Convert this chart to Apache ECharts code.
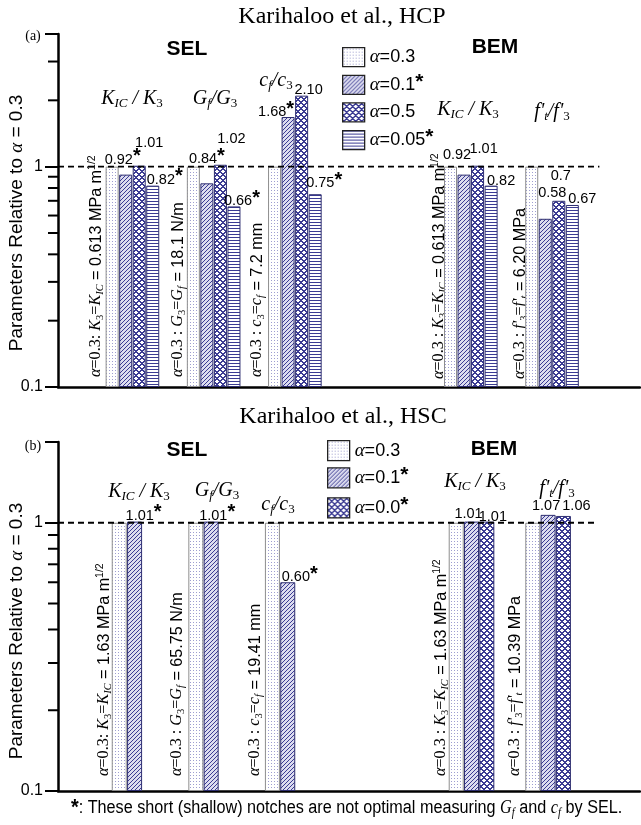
<!DOCTYPE html>
<html>
<head>
<meta charset="utf-8">
<script src="https://cdn.jsdelivr.net/npm/echarts@6/dist/echarts.min.js"></script>
<style>
  html, body { margin: 0; padding: 0; background: #fff; }
  #chart { width: 641px; height: 825px; }
</style>
</head>
<body>
<div id="chart"></div>
<script>
// groups along the x axis: three SEL ratios, then two BEM ratios
const groups = ['KIC/K3', 'Gf/G3', 'cf/c3', 'KIC/K3 BEM', "f't/f'3 BEM"]
const selGroup = [true, true, true, false, false]
const starred = ['α=0.1', 'α=0.05', 'α=0.0']

// (a) Karihaloo et al., HCP
const hcpNames = ['α=0.3', 'α=0.1', 'α=0.5', 'α=0.05']
const hcpA03 = ['1', '1', '1', '1', '1']
const hcpA01 = ['0.92', '0.84', '1.68', '0.92', '0.58']
const hcpA05 = ['1.01', '1.02', '2.10', '1.01', '0.7']
const hcpA005 = ['0.82', '0.66', '0.75', '0.82', '0.67']

// (b) Karihaloo et al., HSC
const hscNames = ['α=0.3', 'α=0.1', 'α=0.0']
const hscA03 = ['1', '1', '1', '1', '1']
const hscA01 = ['1.01', '1.01', '0.60', '1.01', '1.07']
const hscA00 = [null, null, null, '1.01', '1.06']

const hcpMinor = [0.2, 0.3, 0.4, 0.5, 0.6, 0.7, 0.8, 0.9, 2, 3]
const hscMinor = [0.2, 0.3, 0.4, 0.5, 0.6, 0.7, 0.8, 0.9]

// label nudges [dx, dy] (hand placed in the original figure)
const hcpShift = {
  'α=0.1': [[-3, -7], [0, -16], [-12, 3], [-7, -12], [7, -18]],
  'α=0.5': [[10, -15], [11, -18], [7, 2], [6, -9], [2, -17]],
  'α=0.05': [[12, 2], [8, 3], [9, -3], [10, 3], [10, 2]]
}
const hscShift = {
  'α=0.1': [[9, 2], [6, 2], [12, 3], [-3, 0], [-2, -1]],
  'α=0.0': [null, null, null, [6, 3], [13, -2]]
}

const SERIF = "'Liberation Serif', 'Times New Roman', serif"
const NARROW = "'Liberation Sans Narrow', 'Arial Narrow', 'Liberation Sans', Arial, sans-serif"
const SANS = "'Liberation Sans', Arial, sans-serif"
const NAVY = '#3b3b93'

function tile(w, h, bg, fg, on) {
  const c = document.createElement('canvas')
  c.width = w
  c.height = h
  const ctx = c.getContext('2d')
  ctx.fillStyle = bg
  ctx.fillRect(0, 0, w, h)
  ctx.fillStyle = fg
  for (let y = 0; y < h; y++) {
    for (let x = 0; x < w; x++) {
      if (on(x, y)) ctx.fillRect(x, y, 1, 1)
    }
  }
  return { image: c, repeat: 'repeat' }
}

const crossFill = tile(6, 6, '#ffffff', NAVY, (x, y) => (x + y) % 6 < 2 || (x - y + 6) % 6 < 2)
const fills = {
  'α=0.3': tile(3, 3, '#ffffff', '#9e9ed0', (x, y) => x === 1 && y === 1),
  'α=0.1': tile(4, 4, '#dcdcef', NAVY, (x, y) => (x + y) % 4 === 0),
  'α=0.5': crossFill,
  'α=0.05': tile(1, 3, '#ffffff', NAVY, (x, y) => y === 0),
  'α=0.0': crossFill
}

const panels = [
  {
    names: hcpNames, values: [hcpA03, hcpA01, hcpA05, hcpA005], shift: hcpShift, minor: hcpMinor,
    slots: 44, groupStart: [4, 10, 16, 29, 35], barWidth: 13, lineEnd: 40.2, max: 4, top: 34, height: 353
  },
  {
    names: hscNames, values: [hscA03, hscA01, hscA00], shift: hscShift, minor: hscMinor,
    slots: 39, groupStart: [4, 9, 14, 26, 31], barWidth: 15, lineEnd: 35.4, max: 2, top: 442, height: 349
  }
]

function rich(size) {
  const sub = Math.round(size * 0.66)
  return {
    i: { fontFamily: SERIF, fontStyle: 'italic', fontSize: size, fill: '#000' },
    r: { fontFamily: SERIF, fontSize: size, fill: '#000' },
    n: { fontFamily: NARROW, fontSize: size, fill: '#000' },
    si: { fontFamily: SERIF, fontStyle: 'italic', fontSize: sub, fill: '#000', padding: [Math.round(size * 0.5), 0, 0, 0] },
    s: { fontFamily: SERIF, fontSize: sub, fill: '#000', padding: [Math.round(size * 0.5), 0, 0, 0] },
    sup: { fontFamily: NARROW, fontSize: sub, fill: '#000', padding: [0, 0, Math.round(size * 0.5), 0] },
    st: { fontFamily: SANS, fontWeight: 'bold', fontSize: size + 4, fill: '#000' }
  }
}

const labelRich = {
  n: { fontFamily: NARROW, fontSize: 14.5, color: '#000', lineHeight: 16 },
  s: { fontFamily: SANS, fontWeight: 'bold', fontSize: 20, color: '#000', lineHeight: 16, padding: [0, 0, 6, 0] }
}

const legendRich = {
  g: { fontFamily: SERIF, fontStyle: 'italic', fontSize: 19, color: '#000', lineHeight: 19 },
  t: { fontFamily: NARROW, fontSize: 18, color: '#000', lineHeight: 19 },
  s: { fontFamily: SANS, fontWeight: 'bold', fontSize: 21, color: '#000', lineHeight: 19, padding: [0, 0, 6, 0] }
}

const series = []
panels.forEach((p, pi) => {
  p.names.forEach((name, k) => {
    const data = new Array(p.slots).fill('-')
    p.values[k].forEach((s, g) => {
      if (s == null) return
      const item = { value: +s, text: s, star: starred.includes(name) && selGroup[g] }
      const sh = p.shift[name] && p.shift[name][g]
      if (sh) item.label = { offset: sh }
      data[p.groupStart[g] + k] = item
    })
    series.push({
      name: name,
      type: 'bar',
      xAxisIndex: pi,
      yAxisIndex: pi,
      data: data,
      barWidth: p.barWidth,
      barGap: '-100%',
      itemStyle: {
        color: fills[name],
        borderColor: k === 0 ? '#8e8e8e' : '#2e2e70',
        borderWidth: 1
      },
      label: {
        show: k > 0,
        position: 'top',
        distance: 0,
        formatter: lp => '{n|' + lp.data.text + '}' + (lp.data.star ? '{s|*}' : ''),
        rich: labelRich
      },
      emphasis: { disabled: true }
    })
  })
  // dashed reference line at 1
  series.push({
    type: 'custom',
    xAxisIndex: pi,
    yAxisIndex: pi,
    silent: true,
    clip: false,
    encode: { x: [0, 1], y: 2 },
    data: [[0, p.lineEnd, 1]],
    renderItem: (params, api) => {
      const a = api.coord([api.value(0), api.value(2)])
      const b = api.coord([api.value(1), api.value(2)])
      return {
        type: 'line',
        shape: { x1: a[0], y1: a[1], x2: b[0], y2: b[1] },
        style: { stroke: '#000', lineWidth: 1.8, lineDash: [6, 4] },
        z2: 100
      }
    },
    z: 5
  })
  // minor ticks of the log axis (0.2 ... 0.9, 2, 3)
  series.push({
    type: 'custom',
    xAxisIndex: pi,
    yAxisIndex: pi,
    silent: true,
    clip: false,
    data: p.minor.map(v => [0, v]),
    renderItem: (params, api) => {
      const pt = api.coord([api.value(0), api.value(1)])
      return {
        type: 'line',
        shape: { x1: pt[0] - 10, y1: pt[1], x2: pt[0], y2: pt[1] },
        style: { stroke: '#000', lineWidth: 2 }
      }
    }
  })
})

function decadeLabel(v) {
  const l = Math.log10(v)
  if (Math.abs(l - Math.round(l)) > 1e-6 || v > 1.001) return ''
  return v < 0.5 ? '0.1' : '1'
}

function legendFmt(name) {
  return '{g|α}{t|' + name.slice(1) + '}' + (starred.includes(name) ? '{s|*}' : '')
}

function text(x, y, str, size, extra) {
  return Object.assign({
    type: 'text', x: x, y: y, silent: true,
    style: { text: str, rich: rich(size), fontSize: size, fontFamily: NARROW, fill: '#000', align: 'center', verticalAlign: 'middle' }
  }, extra || {})
}
function plain(x, y, str, size, family, weight) {
  return {
    type: 'text', x: x, y: y, silent: true,
    style: { text: str, fontSize: size, fontFamily: family, fontWeight: weight || 'normal', fill: '#000', align: 'center', verticalAlign: 'middle' }
  }
}
const up = { rotation: Math.PI / 2 }

const kRatio = '{i|K}{si|IC}{i| / K}{s|3}'
const gRatio = '{i|G}{si|f}{i|/G}{s|3}'
const cRatio = '{i|c}{si|f}{i|/c}{s|3}'
const fRatio = "{i|f'}{si|t}{i|/f'}{s|3}"

function note(x, y, str) {
  const t = text(x, y, str, 17, { rotation: Math.PI / 2, scaleX: 0.95 })
  t.style.align = 'left'
  return t
}

const graphic = [
  plain(342, 17, 'Karihaloo et al., HCP', 24, SERIF),
  plain(343, 417, 'Karihaloo et al., HSC', 24, SERIF),
  plain(33, 36, '(a)', 14, SERIF),
  plain(33, 446, '(b)', 14, SERIF),
  plain(187, 49, 'SEL', 21, SANS, 'bold'),
  plain(495, 47, 'BEM', 21, SANS, 'bold'),
  plain(187, 450, 'SEL', 21, SANS, 'bold'),
  plain(494, 449, 'BEM', 21, SANS, 'bold'),
  // ratio headers
  text(132, 99, kRatio, 20), text(215, 99, gRatio, 20), text(276, 81, cRatio, 20),
  text(468, 110, kRatio, 20), text(552, 112, fRatio, 20),
  text(139, 492, kRatio, 20), text(217, 491, gRatio, 20), text(278, 505, cRatio, 20),
  text(475, 482, kRatio, 20), text(557, 489, fRatio, 20),
  // reference values at alpha = 0.3
  note(96, 377, '{i|α}{r|=0.3: }{i|K}{s|3}{r|=}{i|K}{si|IC}{n| = 0.613 MPa m}{sup|1/2}'),
  note(178, 377, '{i|α}{r|=0.3 : }{i|G}{s|3}{r|=}{i|G}{si|f}{n| = 18.1 N/m}'),
  note(257, 377, '{i|α}{r|=0.3 : }{i|c}{s|3}{r|=}{i|c}{si|f}{n| = 7.2 mm}'),
  note(439, 379, '{i|α}{r|=0.3 : }{i|K}{s|3}{r|=}{i|K}{si|IC}{n| = 0.613 MPa m}{sup|1/2}'),
  note(520, 379, "{i|α}{r|=0.3 : }{i|f'}{s|3}{r|=}{i|f'}{si|t}{n| = 6.20 MPa}"),
  note(104, 776, '{i|α}{r|=0.3: }{i|K}{s|3}{r|=}{i|K}{si|IC}{n| = 1.63 MPa m}{sup|1/2}'),
  note(177, 776, '{i|α}{r|=0.3 : }{i|G}{s|3}{r|=}{i|G}{si|f}{n| = 65.75 N/m}'),
  note(255, 776, '{i|α}{r|=0.3 : }{i|c}{s|3}{r|=}{i|c}{si|f}{n| = 19.41 mm}'),
  note(441, 776, '{i|α}{r|=0.3 : }{i|K}{s|3}{r|=}{i|K}{si|IC}{n| = 1.63 MPa m}{sup|1/2}'),
  note(515, 776, "{i|α}{r|=0.3 : }{i|f'}{s|3}{r|=}{i|f'}{si|t}{n| = 10.39 MPa}"),
  // y axis names
  text(17, 223, '{n|Parameters Relative to }{i|α}{n| = 0.3}', 19, up),
  text(17, 631, '{n|Parameters Relative to }{i|α}{n| = 0.3}', 19, up)
]
const foot = text(71, 808, '{st|*}{n|: These short (shallow) notches are not optimal measuring }{i|G}{si|f}{n| and }{i|c}{si|f}{n| by SEL.}', 18, { scaleX: 0.9 })
foot.style.align = 'left'
graphic.push(foot)

const chart = echarts.init(document.getElementById('chart'))
chart.setOption({
  backgroundColor: '#fff',
  animation: false,
  grid: panels.map(p => ({ left: 58, right: 1, top: p.top, height: p.height })),
  xAxis: panels.map((p, pi) => ({
    type: 'category',
    gridIndex: pi,
    data: new Array(p.slots).fill(''),
    boundaryGap: false,
    axisLine: { onZero: false, lineStyle: { color: '#000', width: 2.5 } },
    axisTick: { show: false },
    axisLabel: { show: false },
    splitLine: { show: false }
  })),
  yAxis: panels.map((p, pi) => ({
    type: 'log',
    gridIndex: pi,
    logBase: 10,
    min: 0.1,
    max: p.max,
    startValue: 0.1,
    axisLine: { show: true, lineStyle: { color: '#000', width: 2.5 } },
    axisTick: { show: true, length: 13, lineStyle: { color: '#000', width: 2 } },
    axisLabel: { margin: 15, color: '#000', fontSize: 16, fontFamily: NARROW, formatter: decadeLabel },
    splitLine: { show: false }
  })),
  legend: [
    {
      data: hcpNames, left: 337, top: 42, orient: 'vertical', icon: 'rect',
      itemWidth: 22, itemHeight: 19, itemGap: 4, selectedMode: false,
      itemStyle: { borderColor: '#222', borderWidth: 1.3 },
      formatter: legendFmt, textStyle: { rich: legendRich }
    },
    {
      data: hscNames, left: 322, top: 435, orient: 'vertical', icon: 'rect',
      itemWidth: 22, itemHeight: 20, itemGap: 3, selectedMode: false,
      itemStyle: { borderColor: '#222', borderWidth: 1.3 },
      formatter: legendFmt, textStyle: { rich: legendRich }
    }
  ],
  graphic: graphic,
  series: series
})
</script>
</body>
</html>
